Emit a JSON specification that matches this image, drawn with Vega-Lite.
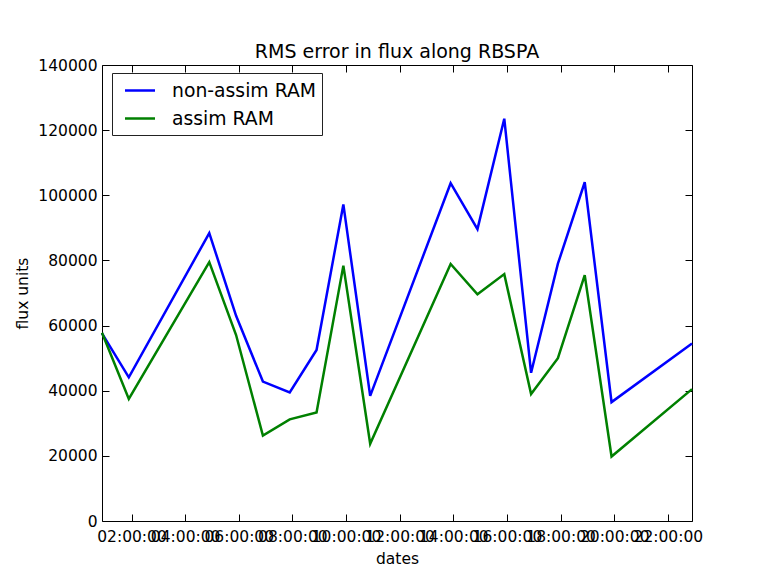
{
  "$schema": "https://vega.github.io/schema/vega-lite/v6.json",
  "width": 590,
  "height": 456,
  "autosize": {"type": "none"},
  "padding": {"left": 102, "top": 65, "right": 66, "bottom": 55},
  "background": "white",
  "title": {"text": "RMS error in flux along RBSPA", "fontSize": 19, "fontWeight": "normal", "color": "black", "font": "DejaVu Sans", "baseline": "alphabetic", "offset": 7, "dy": 26, "anchor": "middle"},
  "config": {"view": {"stroke": "black", "strokeWidth": 1}, "font": "DejaVu Sans"},
  "data": {"values": [
    {"t": "2014-01-01T00:54:00Z", "series": "non-assim RAM", "v": 57600},
    {"t": "2014-01-01T01:54:00Z", "series": "non-assim RAM", "v": 44100},
    {"t": "2014-01-01T04:54:00Z", "series": "non-assim RAM", "v": 88400},
    {"t": "2014-01-01T05:54:00Z", "series": "non-assim RAM", "v": 63000},
    {"t": "2014-01-01T06:54:00Z", "series": "non-assim RAM", "v": 42800},
    {"t": "2014-01-01T07:54:00Z", "series": "non-assim RAM", "v": 39500},
    {"t": "2014-01-01T08:54:00Z", "series": "non-assim RAM", "v": 52500},
    {"t": "2014-01-01T09:54:00Z", "series": "non-assim RAM", "v": 97200},
    {"t": "2014-01-01T10:54:00Z", "series": "non-assim RAM", "v": 38400},
    {"t": "2014-01-01T13:54:00Z", "series": "non-assim RAM", "v": 103700},
    {"t": "2014-01-01T14:54:00Z", "series": "non-assim RAM", "v": 89600},
    {"t": "2014-01-01T15:54:00Z", "series": "non-assim RAM", "v": 123500},
    {"t": "2014-01-01T16:54:00Z", "series": "non-assim RAM", "v": 45500},
    {"t": "2014-01-01T17:54:00Z", "series": "non-assim RAM", "v": 79000},
    {"t": "2014-01-01T18:54:00Z", "series": "non-assim RAM", "v": 104000},
    {"t": "2014-01-01T19:54:00Z", "series": "non-assim RAM", "v": 36500},
    {"t": "2014-01-01T22:54:00Z", "series": "non-assim RAM", "v": 54500},
    {"t": "2014-01-01T00:54:00Z", "series": "assim RAM", "v": 57800},
    {"t": "2014-01-01T01:54:00Z", "series": "assim RAM", "v": 37500},
    {"t": "2014-01-01T04:54:00Z", "series": "assim RAM", "v": 79500},
    {"t": "2014-01-01T05:54:00Z", "series": "assim RAM", "v": 57100},
    {"t": "2014-01-01T06:54:00Z", "series": "assim RAM", "v": 26200},
    {"t": "2014-01-01T07:54:00Z", "series": "assim RAM", "v": 31200},
    {"t": "2014-01-01T08:54:00Z", "series": "assim RAM", "v": 33300},
    {"t": "2014-01-01T09:54:00Z", "series": "assim RAM", "v": 78400},
    {"t": "2014-01-01T10:54:00Z", "series": "assim RAM", "v": 23700},
    {"t": "2014-01-01T13:54:00Z", "series": "assim RAM", "v": 78900},
    {"t": "2014-01-01T14:54:00Z", "series": "assim RAM", "v": 69600},
    {"t": "2014-01-01T15:54:00Z", "series": "assim RAM", "v": 75800},
    {"t": "2014-01-01T16:54:00Z", "series": "assim RAM", "v": 39000},
    {"t": "2014-01-01T17:54:00Z", "series": "assim RAM", "v": 50000},
    {"t": "2014-01-01T18:54:00Z", "series": "assim RAM", "v": 75500},
    {"t": "2014-01-01T19:54:00Z", "series": "assim RAM", "v": 19800},
    {"t": "2014-01-01T22:54:00Z", "series": "assim RAM", "v": 40500}
  ]},
  "layer": [
    {
      "mark": {"type": "line", "strokeWidth": 2.5},
      "encoding": {
        "x": {"field": "t", "type": "temporal", "scale": {"type": "utc", "nice": false},
          "axis": {"orient": "bottom", "title": "dates", "titleFontSize": 15.5, "titleFontWeight": "normal", "titleColor": "black", "titleY": 42, "titleBaseline": "alphabetic",
            "values": [1388541600000, 1388548800000, 1388556000000, 1388563200000, 1388570400000, 1388577600000, 1388584800000, 1388592000000, 1388599200000, 1388606400000, 1388613600000],
            "labelExpr": "utcFormat(datum.value, '%H:%M:%S')", "labelFontSize": 15.5, "labelColor": "black", "labelOverlap": false, "labelFlush": false, "labelBound": false, "labelAngle": 0, "labelBaseline": "top", "labelPadding": 15,
            "tickSize": -7, "tickColor": "black", "tickWidth": 1, "domain": false, "grid": false}},
        "y": {"field": "v", "type": "quantitative", "scale": {"domain": [0, 140000], "nice": false, "zero": true},
          "axis": {"orient": "left", "title": "flux units", "titleFontSize": 15.5, "titleFontWeight": "normal", "titleColor": "black", "titleX": -75, "titleBaseline": "alphabetic",
            "values": [0, 20000, 40000, 60000, 80000, 100000, 120000, 140000], "format": "d",
            "labelFontSize": 15.5, "labelColor": "black", "labelOverlap": false, "labelFlush": false, "labelBound": false, "labelPadding": 12,
            "tickSize": -7, "tickColor": "black", "tickWidth": 1, "domain": false, "grid": false}},
        "color": {"field": "series", "type": "nominal",
          "scale": {"domain": ["non-assim RAM", "assim RAM"], "range": ["#0000ff", "#008000"]},
          "legend": {"title": null, "orient": "none", "legendX": 10, "legendY": 8, "direction": "vertical",
            "symbolType": "M-0.45,0H2.55", "symbolSize": 400, "symbolStrokeWidth": 2.5, "symbolFillColor": "transparent",
            "labelFontSize": 18.8, "labelColor": "black", "labelOffset": 31, "labelLimit": 400,
            "padding": 6, "rowPadding": 6, "fillColor": "white", "strokeColor": "#222222", "cornerRadius": 0}}
      }
    },
    {
      "mark": {"type": "line", "strokeOpacity": 0},
      "encoding": {
        "x": {"field": "t", "type": "temporal", "scale": {"type": "utc", "nice": false},
          "axis": {"orient": "top", "title": null, "labels": false, "domain": false, "grid": false, "tickSize": -7, "tickColor": "black", "tickWidth": 1,
            "values": [1388541600000, 1388548800000, 1388556000000, 1388563200000, 1388570400000, 1388577600000, 1388584800000, 1388592000000, 1388599200000, 1388606400000, 1388613600000]}},
        "y": {"field": "v", "type": "quantitative", "scale": {"domain": [0, 140000], "nice": false},
          "axis": {"orient": "right", "title": null, "labels": false, "domain": false, "grid": false, "tickSize": -7, "tickColor": "black", "tickWidth": 1,
            "values": [0, 20000, 40000, 60000, 80000, 100000, 120000, 140000]}},
        "detail": {"field": "series", "type": "nominal"}
      }
    }
  ],
  "resolve": {"axis": {"x": "independent", "y": "independent"}}
}
